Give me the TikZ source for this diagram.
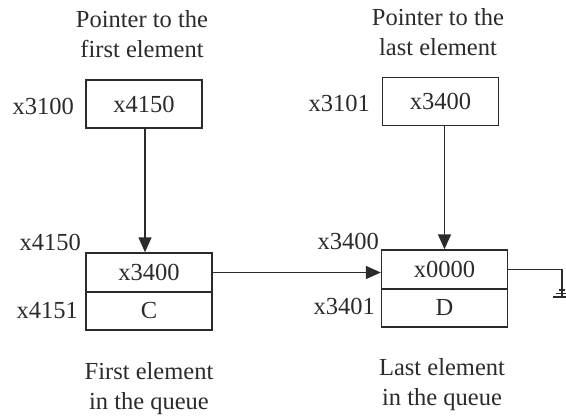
\documentclass[tikz,border=0pt]{standalone}
\usepackage{fontspec}
\setmainfont{Liberation Serif}
\usetikzlibrary{arrows.meta}
\definecolor{ink}{HTML}{2B2B2B}
\begin{document}
\begin{tikzpicture}[x=1pt,y=-1pt,
  txt/.style={text=ink, inner sep=0pt, font=\fontsize{24.5}{30}\selectfont},
  cell/.style={txt, draw=ink, line width=1.4pt, minimum width=126pt},
  ptrbox/.style={txt, draw=ink, line width=1.4pt, minimum width=116pt, minimum height=48pt},
  addr/.style={txt, anchor=east},
  caption/.style={txt, align=center},
  link/.style={draw=ink, line width=1.4pt},
  arr/.style={link, -{Triangle[length=15pt,width=13pt]}}]
\useasboundingbox (0,0) rectangle (566,420);

% head and tail pointers
\node[ptrbox] (head) at (144,104) {x4150};
\node[ptrbox] (tail) at (440.5,101.5) {x3400};
\node[addr] (ahead) at (74,106) {x3100};
\node[addr] (atail) at (370,103) {x3101};
\node[caption] (chead) at (142,34) {Pointer to the\\first element};
\node[caption] (ctail) at (438,32) {Pointer to the\\last element};

% first queue element
\node[cell, minimum height=39pt] (n1p) at (149,272.5) {x3400};
\node[cell, minimum height=38pt] (n1d) at (149,311) {C};
\node[addr] (an1p) at (81,242) {x4150};
\node[addr] (an1d) at (78,311) {x4151};
\node[caption] (cn1) at (149,389) {First element\\in the queue};

% last queue element
\node[cell, minimum height=39pt] (n2p) at (444.5,269.5) {x0000};
\node[cell, minimum height=38pt] (n2d) at (444.5,308) {D};
\node[addr] (an2p) at (379,241) {x3400};
\node[addr] (an2d) at (375,306) {x3401};
\node[caption] (cn2) at (442,385) {Last element\\in the queue};

% connectors
\draw[arr] ([xshift=1pt]head.south) -- ([xshift=1pt]head.south |- n1p.north);
\draw[arr] ([xshift=4pt]tail.south) -- ([xshift=4pt]tail.south |- n2p.north);
\draw[arr] (n1p.east) -- (n1p.east -| n2p.west);

% null pointer to ground
\coordinate (gnd) at (562,297);
\draw[link] (n2p.east) -| (gnd);
\draw[link] ([xshift=-9pt]gnd) -- ([xshift=9pt]gnd)
            ([xshift=-6pt,yshift=3.5pt]gnd) -- ([xshift=6pt,yshift=3.5pt]gnd)
            ([xshift=-3pt,yshift=7pt]gnd) -- ([xshift=3pt,yshift=7pt]gnd);
\end{tikzpicture}
\end{document}
